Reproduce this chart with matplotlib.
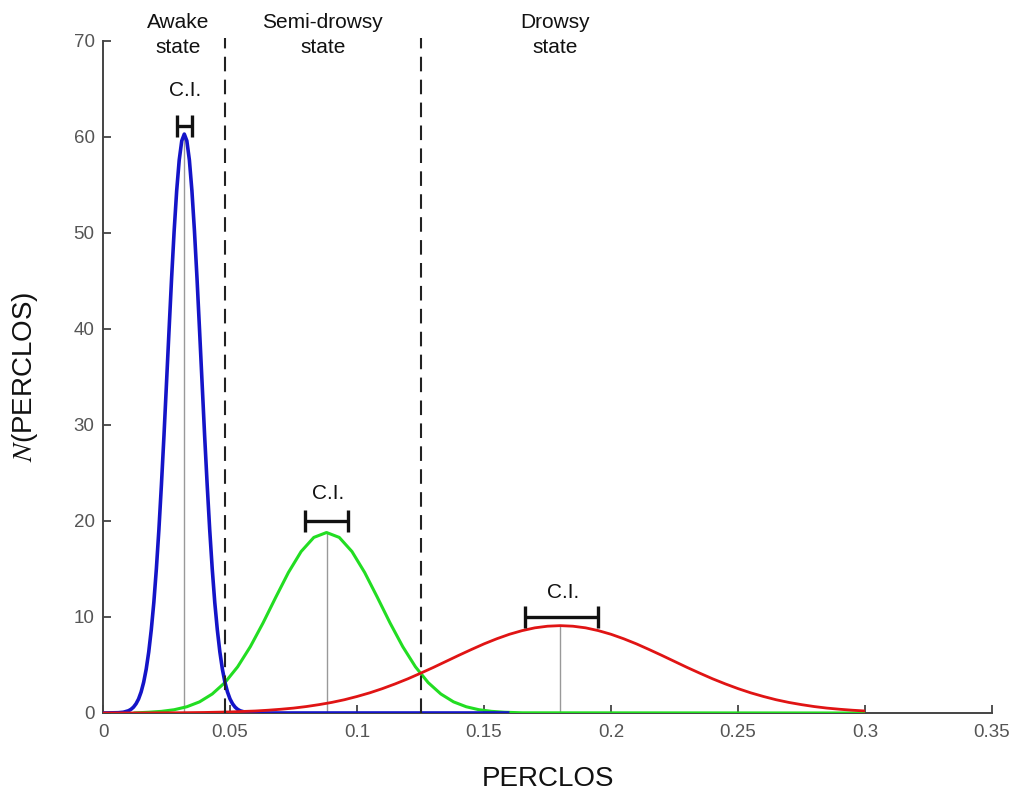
import matplotlib
matplotlib.use("Agg")
import matplotlib.pyplot as plt

# ---------------- data ----------------
awake_x = [0.0, 0.006, 0.008, 0.010, 0.011, 0.012, 0.013, 0.014, 0.015, 0.016, 0.017, 0.018,
           0.019, 0.020, 0.021, 0.022, 0.023, 0.024, 0.025, 0.026, 0.027, 0.028, 0.029,
           0.030, 0.031, 0.032, 0.033, 0.034, 0.035, 0.036, 0.037, 0.038, 0.039, 0.040,
           0.041, 0.042, 0.043, 0.044, 0.045, 0.046, 0.047, 0.048, 0.049, 0.050, 0.051,
           0.052, 0.053, 0.054, 0.056, 0.058, 0.062, 0.16]
awake_y = [0.0, 0.03, 0.08, 0.23, 0.38, 0.61, 0.96, 1.46, 2.19, 3.20, 4.56, 6.36,
           8.67, 11.5, 15.0, 19.1, 23.8, 28.9, 34.4, 39.9, 45.3, 50.2, 54.4,
           57.6, 59.6, 60.3, 59.6, 57.6, 54.4, 50.2, 45.3, 39.9, 34.4, 28.9,
           23.8, 19.1, 15.0, 11.5, 8.67, 6.36, 4.56, 3.20, 2.19, 1.46, 0.96,
           0.61, 0.38, 0.23, 0.08, 0.03, 0.0, 0.0]

semi_x = [0.012, 0.018, 0.023, 0.028, 0.033, 0.038, 0.043, 0.048, 0.053, 0.058, 0.063,
          0.068, 0.073, 0.078, 0.083, 0.088, 0.093, 0.098, 0.103, 0.108, 0.113, 0.118,
          0.123, 0.128, 0.133, 0.138, 0.143, 0.148, 0.153, 0.158, 0.165, 0.30]
semi_y = [0.0, 0.08, 0.17, 0.34, 0.65, 1.16, 1.98, 3.17, 4.81, 6.91, 9.38,
          12.05, 14.64, 16.82, 18.29, 18.8, 18.29, 16.82, 14.64, 12.05, 9.38, 6.91,
          4.81, 3.17, 1.98, 1.16, 0.65, 0.34, 0.17, 0.08, 0.02, 0.0]

drowsy_x = [0.0, 0.01, 0.02, 0.03, 0.04, 0.05, 0.06, 0.065, 0.07, 0.075, 0.08, 0.085,
            0.09, 0.095, 0.10, 0.105, 0.11, 0.115, 0.12, 0.125, 0.13, 0.135, 0.14,
            0.145, 0.15, 0.155, 0.16, 0.165, 0.17, 0.175, 0.18, 0.185, 0.19, 0.195,
            0.20, 0.205, 0.21, 0.215, 0.22, 0.225, 0.23, 0.235, 0.24, 0.245, 0.25,
            0.255, 0.26, 0.265, 0.27, 0.275, 0.28, 0.285, 0.29, 0.295, 0.30]
drowsy_y = [0.0, 0.005, 0.012, 0.026, 0.055, 0.11, 0.21, 0.29, 0.39, 0.51, 0.67, 0.87,
            1.10, 1.38, 1.72, 2.10, 2.54, 3.03, 3.56, 4.14, 4.74, 5.37, 6.00,
            6.61, 7.20, 7.73, 8.20, 8.58, 8.87, 9.04, 9.10, 9.04, 8.87, 8.58,
            8.20, 7.73, 7.20, 6.61, 6.00, 5.37, 4.74, 4.14, 3.56, 3.03, 2.54,
            2.10, 1.72, 1.38, 1.10, 0.87, 0.67, 0.51, 0.39, 0.29, 0.21]

means = [0.032, 0.088, 0.180]
peaks = [60.3, 18.8, 9.1]
ci_low = [0.0290, 0.0795, 0.1660]
ci_high = [0.0350, 0.0965, 0.1950]
ci_level = [61.1, 20.0, 10.0]
ci_text_y = [64.8, 22.9, 12.6]

thresholds = [0.048, 0.125]
state_labels = ["Awake\nstate", "Semi-drowsy\nstate", "Drowsy\nstate"]
state_label_x = [0.0295, 0.0865, 0.1780]

x_ticks = [0, 0.05, 0.1, 0.15, 0.2, 0.25, 0.3, 0.35]
x_tick_labels = ["0", "0.05", "0.1", "0.15", "0.2", "0.25", "0.3", "0.35"]
y_ticks = [0, 10, 20, 30, 40, 50, 60, 70]

# ---------------- figure ----------------
plt.rcParams['font.family'] = ['Liberation Sans', 'DejaVu Sans']
plt.rcParams['mathtext.fontset'] = 'stix'

fig = plt.figure(figsize=(10.24, 7.97), dpi=100)
ax = fig.add_axes([0.1006, 0.1054, 0.8682, 0.8432])

# curves
ax.plot(semi_x, semi_y, color='#22dd22', lw=2.2, zorder=3, solid_capstyle='butt')
ax.plot(awake_x, awake_y, color='#1414c8', lw=2.6, zorder=4, solid_capstyle='butt')
ax.plot(drowsy_x, drowsy_y, color='#e01414', lw=2.0, zorder=5, solid_capstyle='butt')

# mean lines
for m, p in zip(means, peaks):
    ax.plot([m, m], [0, p], color='#999999', lw=1.0, zorder=2)

# threshold dashed lines
for t in thresholds:
    ax.plot([t, t], [0, 70.3], color='#222222', lw=1.5, ls=(0, (7, 4)), zorder=6, clip_on=False)

# confidence intervals
for lo, hi, lev, m, ty in zip(ci_low, ci_high, ci_level, means, ci_text_y):
    ax.plot([lo, hi], [lev, lev], color='#111111', lw=2.4, zorder=7, solid_capstyle='butt')
    ax.plot([lo, lo], [lev - 1.15, lev + 1.15], color='#111111', lw=2.4, zorder=7, solid_capstyle='butt')
    ax.plot([hi, hi], [lev - 1.15, lev + 1.15], color='#111111', lw=2.4, zorder=7, solid_capstyle='butt')
    ax.text((lo + hi) / 2 + 0.0005, ty, "C.I.", fontsize=15, ha='center', va='center', color='#111111')

# state labels above axes
for lab, lx in zip(state_labels, state_label_x):
    ax.text(lx, 68.3, lab, fontsize=15, ha='center', va='bottom', color='#111111',
            linespacing=1.45, clip_on=False)

# axes styling
ax.set_xlim(0, 0.35)
ax.set_ylim(0, 70)
ax.set_xticks(x_ticks)
ax.set_xticklabels(x_tick_labels)
ax.set_yticks(y_ticks)
for s in ['top', 'right']:
    ax.spines[s].set_visible(False)
for s in ['left', 'bottom']:
    ax.spines[s].set_color('#444444')
    ax.spines[s].set_linewidth(1.4)
ax.tick_params(direction='in', length=6, width=1.3, color='#444444', labelcolor='#555555',
               labelsize=13.5)
ax.tick_params(axis='x', pad=8)
ax.tick_params(axis='y', pad=6)

ax.set_xlabel("PERCLOS", fontsize=20, color='#111111', labelpad=18)
ax.set_ylabel(r"$N$(PERCLOS)", fontsize=20, color='#111111', labelpad=24)

fig.savefig("out.png", dpi=100, facecolor='white')
